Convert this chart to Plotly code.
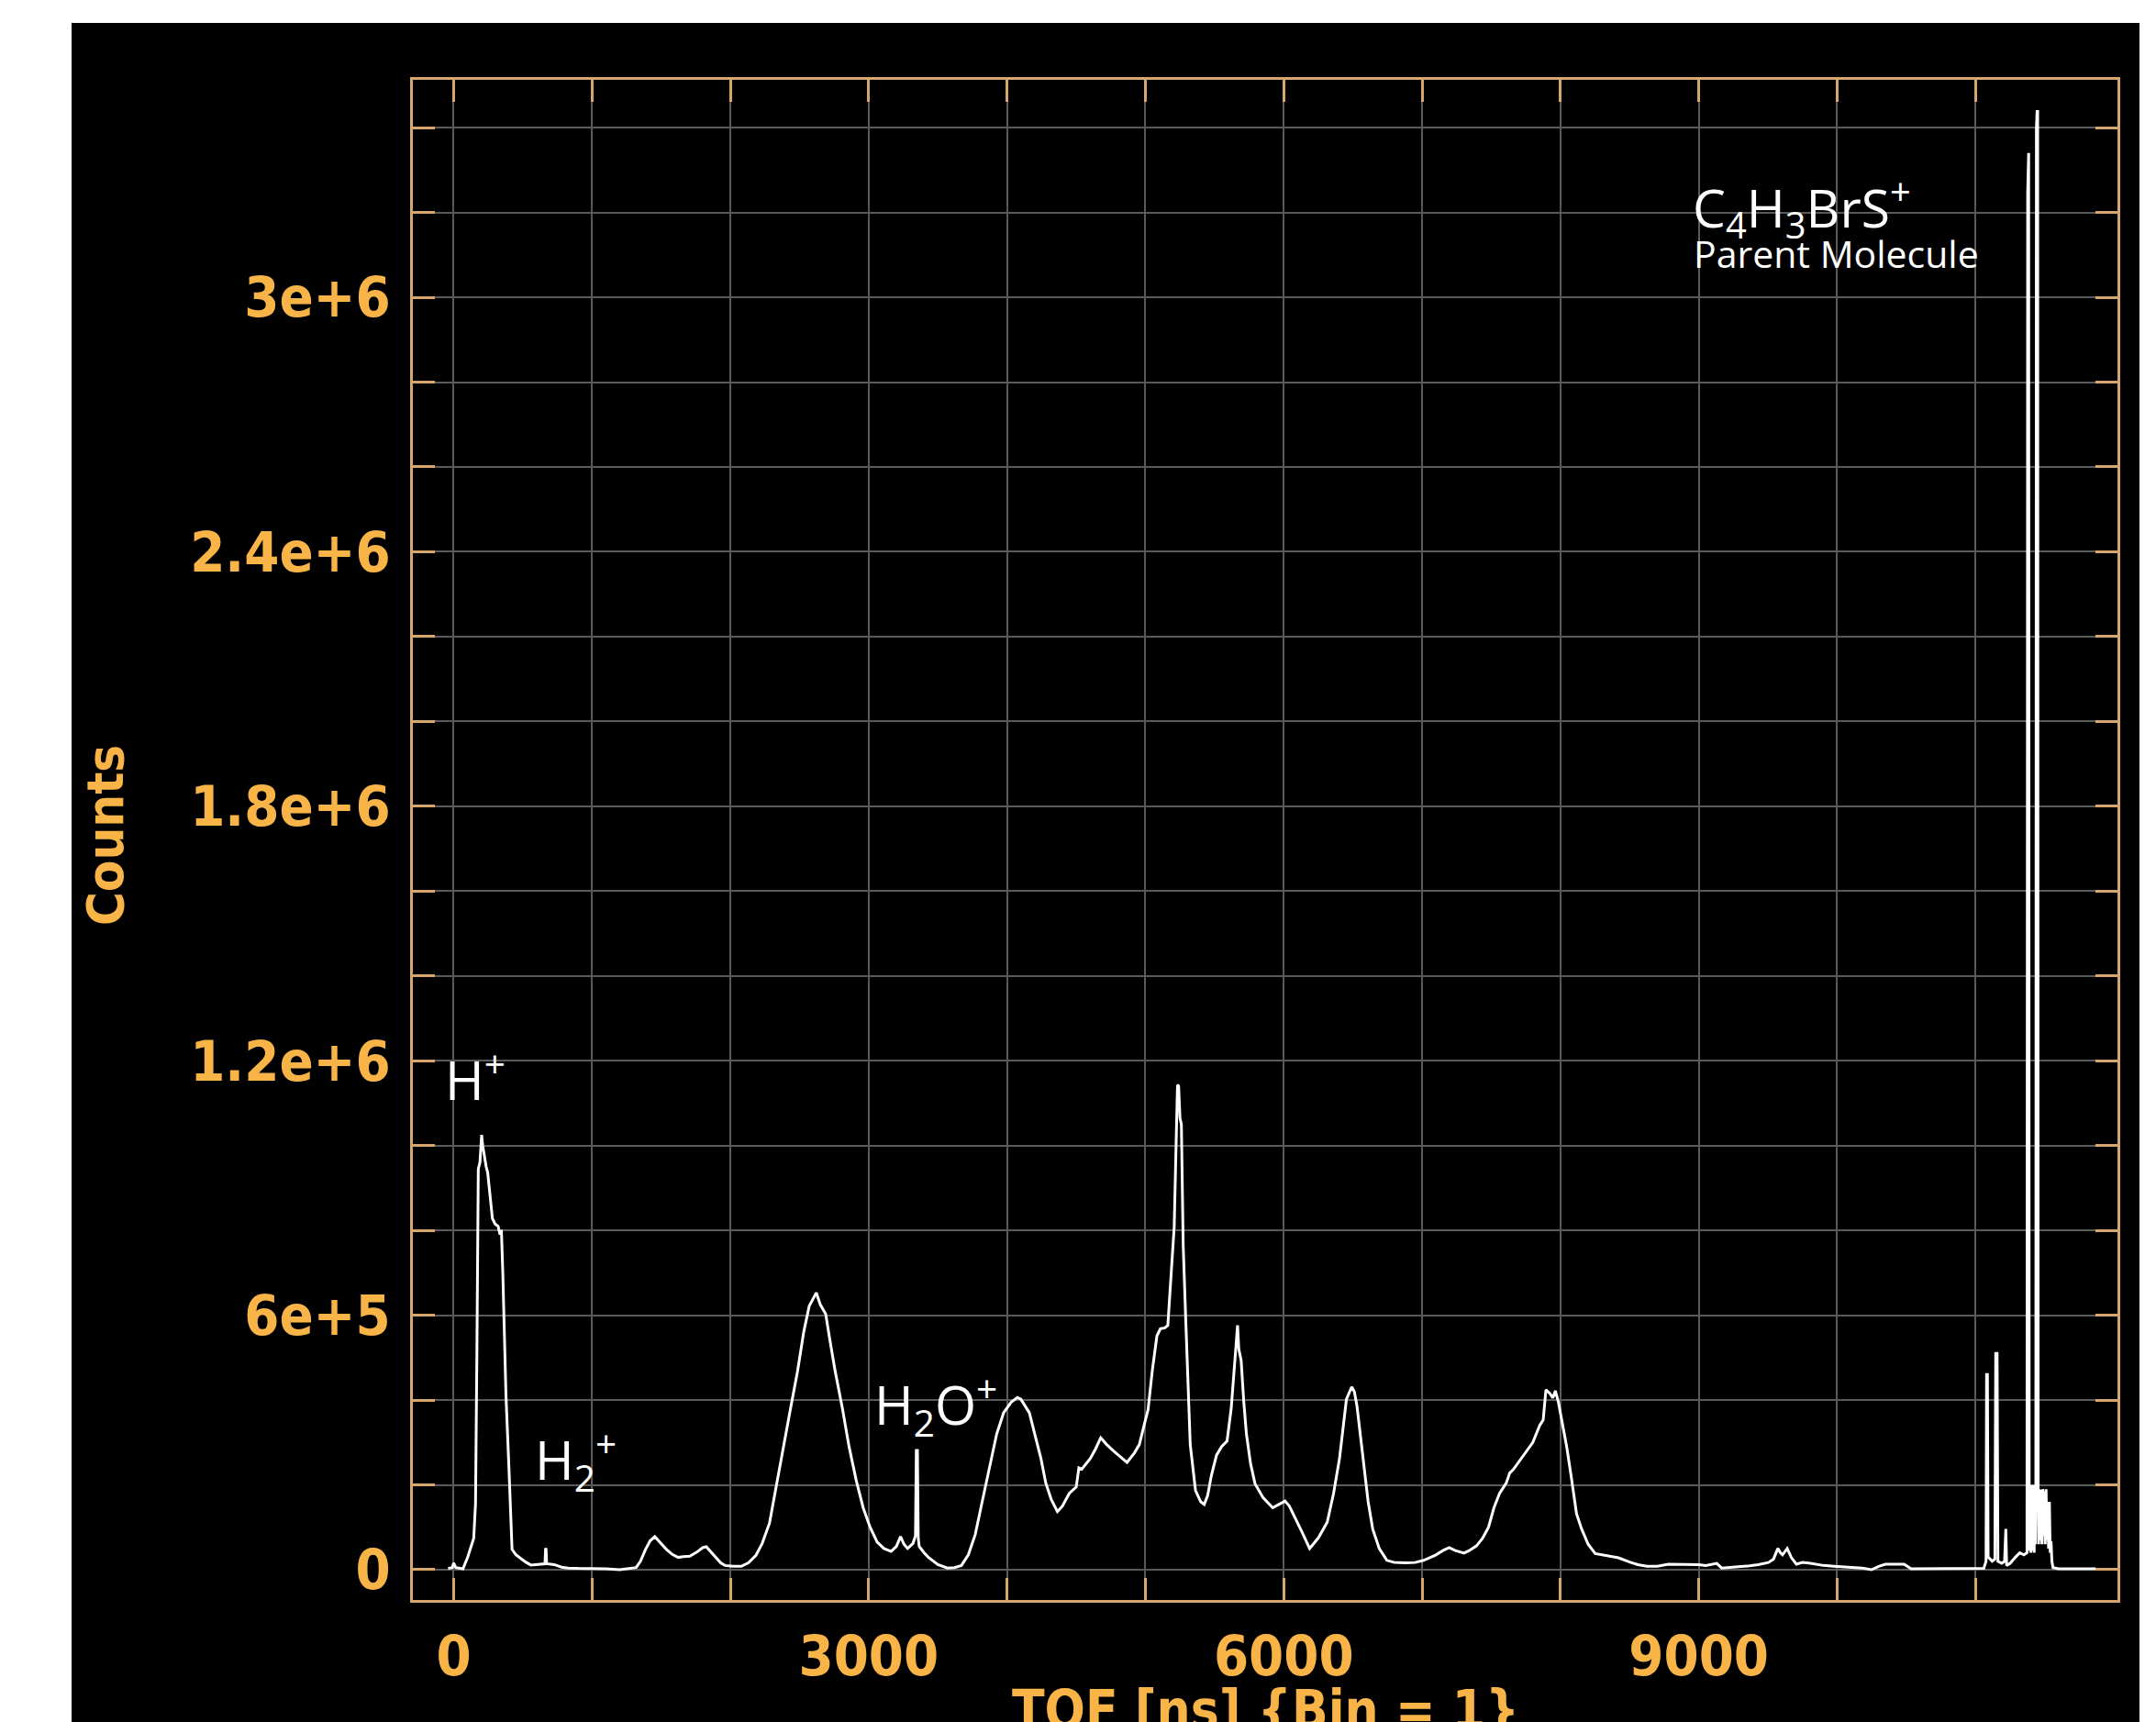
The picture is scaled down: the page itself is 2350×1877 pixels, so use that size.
import plotly.graph_objects as go

# ---- data (TOF in ns, counts) ----
tof_ns = [
    -40, -10, 0, 15, 67, 101, 145, 158, 168, 178, 190, 202, 210, 219, 235, 246, 262, 280, 300, 321,
    335, 345, 355, 365, 378, 399, 410, 422, 450, 490, 520, 558, 600, 640, 660, 664, 668, 672, 700, 727,
    780, 828, 900, 1000, 1100, 1200, 1260, 1319, 1350, 1387, 1420, 1454, 1490, 1538, 1580, 1623, 1660, 1707, 1760, 1800,
    1826, 1860, 1893, 1930, 1961, 2020, 2079, 2130, 2185, 2230, 2283, 2330, 2384, 2435, 2486, 2530, 2570, 2600, 2621, 2650,
    2670, 2689, 2720, 2757, 2810, 2858, 2910, 2960, 3010, 3061, 3110, 3162, 3200, 3230, 3255, 3281, 3320, 3338, 3344, 3352,
    3358, 3365, 3400, 3432, 3500, 3569, 3620, 3670, 3720, 3770, 3820, 3873, 3925, 3975, 4030, 4075, 4100, 4161, 4200, 4245,
    4280, 4320, 4364, 4400, 4450, 4500, 4519, 4540, 4601, 4640, 4677, 4720, 4770, 4820, 4867, 4920, 4956, 4990, 5019, 5050,
    5083, 5108, 5140, 5162, 5184, 5200, 5208, 5222, 5232, 5240, 5250, 5260, 5273, 5291, 5306, 5324, 5362, 5400, 5425, 5450,
    5476, 5514, 5550, 5590, 5620, 5641, 5655, 5666, 5675, 5692, 5710, 5730, 5760, 5792, 5850, 5920, 5970, 6009, 6040, 6071,
    6130, 6187, 6250, 6314, 6360, 6403, 6430, 6453, 6491, 6510, 6529, 6555, 6580, 6610, 6643, 6690, 6745, 6800, 6885, 6950,
    7011, 7100, 7150, 7195, 7240, 7303, 7340, 7392, 7437, 7480, 7519, 7560, 7608, 7633, 7659, 7700, 7772, 7800, 7850, 7875,
    7895, 7925, 7945, 7963, 7985, 8014, 8045, 8077, 8116, 8153, 8200, 8251, 8306, 8350, 8419, 8500, 8560, 8624, 8700, 8780,
    8928, 9000, 9050, 9130, 9165, 9250, 9367, 9430, 9503, 9540, 9571, 9590, 9605, 9639, 9670, 9705, 9750, 9807, 9900, 9977,
    10080, 10180, 10248, 10300, 10349, 10484, 10534, 10600, 10800, 11000, 11060, 11076, 11080, 11086, 11091, 11120, 11140, 11146, 11150, 11156,
    11162, 11190, 11210, 11214, 11219, 11225, 11250, 11290, 11320, 11350, 11372, 11377, 11380, 11384, 11388, 11392, 11396, 11400, 11404, 11408,
    11412, 11416, 11420, 11424, 11428, 11432, 11436, 11440, 11445, 11449, 11453, 11456, 11462, 11468, 11474, 11480, 11486, 11492, 11498, 11504,
    11510, 11516, 11522, 11528, 11534, 11540, 11546, 11552, 11560, 11600, 11700, 11870,
]
counts = [
    3000, 5000, 16000, 5000, 2000, 29000, 74000, 156000, 515000, 945000, 960000, 1025000, 1000000, 980000, 950000, 936000, 890000, 828000, 815000, 810000,
    790000, 801000, 703000, 560000, 411000, 244000, 140000, 48000, 35000, 25000, 18000, 11000, 12000, 13000, 14000, 48000, 48000, 14000, 13000, 12000,
    6000, 4000, 3000, 3000, 2000, 0, 2000, 5000, 20000, 48000, 68000, 78000, 65000, 48000, 36000, 29000, 31000, 32000, 42000, 52000,
    54000, 42000, 29000, 16000, 10000, 8000, 8000, 16000, 34000, 62000, 110000, 190000, 290000, 380000, 469000, 560000, 622000, 640000, 653000, 625000,
    615000, 603000, 540000, 469000, 380000, 290000, 210000, 146000, 100000, 65000, 50000, 43000, 55000, 78000, 60000, 50000, 62000, 80000, 281000, 281000,
    75000, 55000, 40000, 29000, 12000, 4000, 5000, 10000, 35000, 83000, 160000, 244000, 320000, 370000, 395000, 406000, 402000, 370000, 320000, 262000,
    204000, 165000, 137000, 150000, 180000, 195000, 240000, 237000, 262000, 285000, 311000, 295000, 280000, 265000, 253000, 275000, 295000, 340000, 377000, 470000,
    551000, 568000, 570000, 576000, 683000, 780000, 808000, 1006000, 1143000, 1140000, 1064000, 1050000, 766000, 593000, 443000, 295000, 187000, 160000, 154000, 175000,
    221000, 270000, 290000, 303000, 380000, 469000, 530000, 576000, 520000, 493000, 400000, 320000, 250000, 203000, 170000, 146000, 155000, 162000, 150000, 130000,
    90000, 50000, 75000, 112000, 180000, 262000, 340000, 402000, 431000, 420000, 386000, 310000, 237000, 160000, 96000, 50000, 22000, 17000, 16000, 17000,
    22000, 35000, 45000, 52000, 45000, 39000, 45000, 56000, 74000, 100000, 146000, 180000, 204000, 228000, 236000, 255000, 286000, 300000, 340000, 353000,
    424000, 415000, 405000, 422000, 395000, 343000, 290000, 221000, 132000, 96000, 60000, 38000, 35000, 32000, 28000, 18000, 12000, 8000, 8000, 13000,
    13000, 12000, 10000, 15000, 4000, 6000, 9000, 12000, 17000, 25000, 50000, 40000, 35000, 50000, 28000, 13000, 17000, 15000, 10000, 8000,
    6000, 4000, 0, 8000, 13000, 13000, 2000, 2000, 2000, 2000, 3000, 20000, 460000, 460000, 30000, 20000, 25000, 510000, 510000, 510000,
    20000, 15000, 20000, 96000, 96000, 10000, 15000, 30000, 40000, 35000, 40000, 3247000, 3340000, 3340000, 200000, 45000, 200000, 40000, 198000, 50000,
    200000, 45000, 196000, 40000, 200000, 60000, 198000, 3398000, 3438000, 3438000, 190000, 60000, 190000, 70000, 188000, 60000, 190000, 80000, 185000, 60000,
    190000, 70000, 160000, 50000, 160000, 40000, 67000, 20000, 5000, 2000, 2000, 2000,
]

x_tick_vals = [0, 3000, 6000, 9000]
x_tick_text = ["0", "3000", "6000", "9000"]
x_minor_vals = [1000, 2000, 4000, 5000, 7000, 8000, 10000, 11000]
y_tick_vals = [0, 600000, 1200000, 1800000, 2400000, 3000000]
y_tick_text = ["0", "6e+5", "1.2e+6", "1.8e+6", "2.4e+6", "3e+6"]
y_minor_vals = [200000, 400000, 800000, 1000000, 1400000, 1600000, 2000000, 2200000,
                2600000, 2800000, 3200000, 3400000]

x_title = "TOF [ns] {Bin = 1}"
y_title = "Counts"
peak_labels = ["H<sup>+</sup>", "H<sub>2</sub><sup>+</sup>", "H<sub>2</sub>O<sup>+</sup>",
               "C<sub>4</sub>H<sub>3</sub>BrS<sup>+</sup>", "Parent Molecule"]

# ---- style ----
GOLD = "#f8b446"
TAN = "#d6a66c"
GRID = "#5a5a5a"
AXFONT = "DejaVu Sans Condensed, DejaVu Sans, sans-serif"
LBLFONT = "Open Sans, Lato, sans-serif"

fig = go.Figure()
fig.add_trace(go.Scatter(x=tof_ns, y=counts, mode="lines",
                         line=dict(color="white", width=3), hoverinfo="skip"))

tick_style = dict(ticks="inside", ticklen=24, tickwidth=3, tickcolor=TAN,
                  showgrid=True, gridcolor=GRID, gridwidth=2)

axis_common = dict(
    showgrid=True, gridcolor=GRID, gridwidth=2,
    showline=True, linecolor=TAN, linewidth=3, mirror="ticks",
    ticks="inside", ticklen=24, tickwidth=3, tickcolor=TAN,
    zeroline=False, tickmode="array",
    tickfont=dict(family=AXFONT, size=61, color=GOLD, weight="bold"),
)

# the page body adds an 8 px offset; figure is sized so the plot lands where the reference has it
fig.update_layout(
    width=2342, height=1869,
    margin=dict(l=442, r=42, t=79, b=133, pad=0),
    paper_bgcolor="white", plot_bgcolor="black",
    showlegend=False,
    xaxis=dict(range=[-295, 12026], tickvals=x_tick_vals, ticktext=x_tick_text,
               ticklabelstandoff=6,
               minor=dict(tickmode="array", tickvals=x_minor_vals, **tick_style),
               **axis_common),
    yaxis=dict(range=[-71400, 3512700], tickvals=y_tick_vals, ticktext=y_tick_text,
               ticklabelstandoff=9,
               minor=dict(tickmode="array", tickvals=y_minor_vals, **tick_style),
               **axis_common),
)

# black window background behind the plot
fig.add_shape(type="rect", xref="paper", yref="paper", x0=-0.2002, x1=1.0129, y0=-0.12, y1=1.0374,
              fillcolor="black", line=dict(width=0), layer="below")

# axis titles
fig.add_annotation(text=x_title, xref="paper", yref="paper", x=0.5, y=-0.0724,
                   xanchor="center", yanchor="middle", showarrow=False,
                   font=dict(family=AXFONT, size=58, color=GOLD, weight="bold"))
fig.add_annotation(text=y_title, xref="paper", yref="paper", x=-0.1808, y=0.5027,
                   xanchor="center", yanchor="middle", showarrow=False, textangle=-90,
                   font=dict(family=AXFONT, size=56, color=GOLD, weight="bold"))

# peak labels
lbl_pos = [(-76, 1161500, 58), (574, 257000, 58), (3027, 388000, 58), (8942, 3212000, 57), (8949, 3104000, 41)]
for txt, (lx, ly, fs) in zip(peak_labels, lbl_pos):
    fig.add_annotation(text=txt, x=lx, y=ly, xref="x", yref="y", xanchor="left", yanchor="middle",
                       showarrow=False, font=dict(family=LBLFONT, size=fs, color="white"))

fig.write_html("out.html")
